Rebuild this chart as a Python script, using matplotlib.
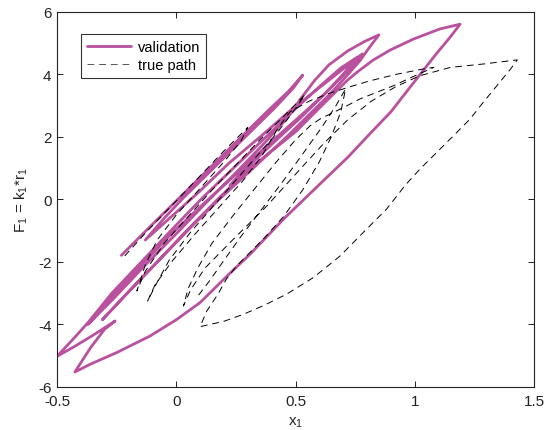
import matplotlib
matplotlib.use("Agg")
import matplotlib.pyplot as plt

plt.rcParams['font.family'] = ['Liberation Sans', 'DejaVu Sans']
plt.rcParams['mathtext.fontset'] = 'custom'
plt.rcParams['mathtext.rm'] = 'Liberation Sans'
plt.rcParams['mathtext.it'] = 'Liberation Sans'
plt.rcParams['mathtext.default'] = 'regular'
plt.rcParams['axes.unicode_minus'] = False

# ---- data: validation path (x1, F1) ----
val_x = [-0.23, -0.12, 0.0, 0.12, 0.26, 0.38, 0.47, 0.53,
         0.49, 0.41, 0.29, 0.15, 0.03, -0.05, -0.13,
         -0.02, 0.09, 0.22, 0.36, 0.48, 0.58, 0.68, 0.78,
         0.73, 0.64, 0.54, 0.40, 0.25, 0.12, -0.02, -0.14, -0.25, -0.37,
         -0.26, -0.13, 0.0, 0.12, 0.25, 0.37, 0.46, 0.52, 0.58, 0.64, 0.72, 0.79, 0.85,
         0.81, 0.77, 0.715, 0.645, 0.56, 0.47, 0.33, 0.18, 0.06, -0.06, -0.18, -0.31,
         -0.20, -0.08, 0.05, 0.18, 0.31, 0.45, 0.505, 0.575, 0.645, 0.715, 0.757, 0.825, 0.896, 0.993, 1.106, 1.19,
         1.15, 1.09, 0.99, 0.90, 0.80, 0.72, 0.62, 0.45, 0.31, 0.22, 0.10, 0.0, -0.11, -0.25, -0.36, -0.425,
         -0.36, -0.30, -0.256,
         -0.35, -0.43, -0.50,
         -0.43, -0.37, -0.27, -0.14, -0.01, 0.11, 0.24, 0.37, 0.50, 0.60, 0.69, 0.76,
         0.70, 0.62, 0.52, 0.42, 0.33, 0.26, 0.225]
val_y = [-1.79, -0.95, -0.05, 0.85, 1.9, 2.8, 3.45, 3.97,
         3.55, 2.9, 2.0, 0.95, 0.05, -0.6, -1.3,
         -0.55, 0.2, 1.15, 2.05, 2.85, 3.45, 4.05, 4.65,
         4.2, 3.5, 2.8, 1.85, 0.8, -0.1, -1.1, -2.05, -2.95, -4.0,
         -3.15, -2.1, -1.1, -0.15, 0.85, 1.8, 2.55, 3.2, 3.8, 4.3, 4.75, 5.05, 5.26,
         4.86, 4.43, 3.95, 3.37, 2.73, 2.05, 1.05, 0.0, -0.9, -1.85, -2.8, -3.85,
         -2.95, -2.0, -0.95, 0.05, 1.0, 1.85, 2.19, 2.73, 3.26, 3.79, 4.06, 4.45, 4.77, 5.12, 5.45, 5.6,
         5.2, 4.65, 3.68, 2.8, 2.0, 1.35, 0.62, -0.63, -1.75, -2.4, -3.3, -3.85, -4.37, -4.9, -5.27, -5.52,
         -4.75, -4.15, -3.89,
         -4.35, -4.72, -5.02,
         -4.45, -3.94, -3.0, -1.95, -0.9, 0.05, 1.0, 1.95, 2.9, 3.6, 4.2, 4.55,
         4.0, 3.35, 2.6, 1.9, 1.25, 0.75, 0.45]

# ---- data: true path ----
true_x = [-0.216, -0.12, 0.0, 0.1, 0.2, 0.3,
          0.27, 0.2, 0.1, 0.0, -0.08, -0.13, -0.165,
          -0.13, -0.05, 0.05, 0.15, 0.25, 0.35, 0.45, 0.54,
          0.50, 0.42, 0.30, 0.18, 0.06, -0.03, -0.08, -0.12,
          -0.09, -0.02, 0.08, 0.18, 0.28, 0.36, 0.42, 0.477, 0.56, 0.645, 0.729, 0.812, 0.924, 1.036, 1.08,
          1.03, 0.98, 0.91, 0.84, 0.77, 0.715, 0.659, 0.603, 0.561, 0.50, 0.42, 0.33, 0.24, 0.15, 0.09, 0.05, 0.03,
          0.06, 0.12, 0.24, 0.38, 0.52, 0.62, 0.72, 0.82, 0.92, 1.02, 1.15, 1.29, 1.43,
          1.402, 1.344, 1.287, 1.232, 1.162, 1.092, 1.022, 0.96, 0.882, 0.784, 0.687, 0.575, 0.463, 0.365, 0.28, 0.20, 0.10,
          0.128, 0.175, 0.21, 0.253, 0.309, 0.365, 0.45, 0.53, 0.60, 0.65, 0.69, 0.71,
          0.67, 0.61, 0.53, 0.44, 0.35, 0.27, 0.20, 0.14, 0.09]
true_y = [-1.81, -1.0, -0.05, 0.75, 1.55, 2.3,
          1.85, 1.2, 0.35, -0.5, -1.3, -2.1, -2.93,
          -2.3, -1.4, -0.55, 0.3, 1.1, 1.9, 2.65, 3.35,
          2.9, 2.1, 1.05, 0.0, -1.05, -1.95, -2.65, -3.25,
          -2.75, -2.0, -1.1, -0.25, 0.6, 1.4, 2.2, 2.8, 3.15, 3.4, 3.6, 3.79, 4.0, 4.17, 4.22,
          4.05, 3.88, 3.63, 3.42, 3.21, 2.99, 2.78, 2.57, 2.35, 1.9, 1.2, 0.35, -0.5, -1.4, -2.2, -2.85, -3.41,
          -2.9, -2.2, -1.27, -0.21, 0.97, 1.8, 2.55, 3.15, 3.6, 3.95, 4.22, 4.33, 4.46,
          4.17, 3.63, 3.1, 2.57, 2.03, 1.5, 0.97, 0.45, -0.31, -1.06, -1.81, -2.5, -3.03, -3.4, -3.68, -3.9, -4.07,
          -3.57, -3.03, -2.55, -2.13, -1.7, -1.27, -0.55, 0.3, 1.2, 2.0, 2.8, 3.53,
          3.0, 2.3, 1.45, 0.5, -0.4, -1.2, -1.95, -2.6, -3.1]

x_ticks = [-0.5, 0, 0.5, 1, 1.5]
x_tick_labels = ['-0.5', '0', '0.5', '1', '1.5']
y_ticks = [-6, -4, -2, 0, 2, 4, 6]
y_tick_labels = ['-6', '-4', '-2', '0', '2', '4', '6']

W, H = 545, 431
fig = plt.figure(figsize=(W / 100, H / 100), dpi=100)
ax = fig.add_axes([57 / W, (H - 388) / H, (534 - 57) / W, (388 - 12.7) / H])

ax.plot(val_x, val_y, color='#B9519F', lw=2.0, solid_joinstyle='round',
        solid_capstyle='round', label='validation', zorder=2)
ax.plot(true_x, true_y, color='black', lw=0.7, dashes=(7, 5),
        label='true path', zorder=3)

ax.set_xlim(-0.5, 1.5)
ax.set_ylim(-6, 6)
ax.set_xticks(x_ticks)
ax.set_xticklabels(x_tick_labels)
ax.set_yticks(y_ticks)
ax.set_yticklabels(y_tick_labels)
ax.tick_params(direction='in', length=4, width=0.7, top=True, right=True,
               labelsize=11, colors='#222222')
ax.tick_params(axis='x', pad=5)
ax.tick_params(axis='y', pad=4)
for s in ax.spines.values():
    s.set_linewidth(0.8)
    s.set_color('#222222')

ax.set_xlabel('x$_1$', fontsize=11, labelpad=5, color='#222222')
ax.set_ylabel('F$_1$ = k$_1$*r$_1$', fontsize=11, labelpad=6, color='#222222')

leg = ax.legend(loc='upper left', bbox_to_anchor=(0.035, 0.96), fontsize=10.5,
                frameon=True, fancybox=False, edgecolor='black',
                handlelength=3.0, borderpad=0.4, labelspacing=0.3, handletextpad=0.5)
leg.get_frame().set_linewidth(0.8)
leg.get_lines()[1].set_color('#555555')

fig.savefig('out.png', dpi=100, facecolor='white')
